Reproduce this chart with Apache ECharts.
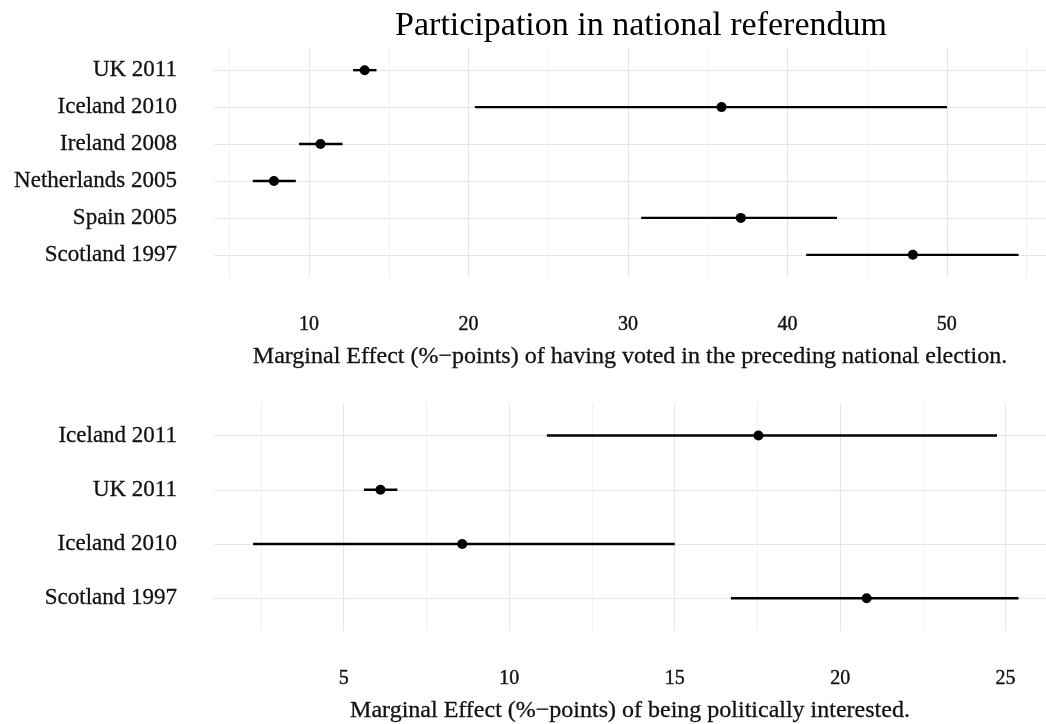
<!DOCTYPE html>
<html>
<head>
<meta charset="utf-8">
<script src="https://cdn.jsdelivr.net/npm/echarts@6/dist/echarts.min.js"></script>
<style>
  html, body { margin: 0; padding: 0; background: #fff; }
  #chart { width: 1046px; height: 724px; }
</style>
</head>
<body>
<div id="chart"></div>
<script>
// top panel: having voted in the preceding national election
var topCats = ["UK 2011", "Iceland 2010", "Ireland 2008", "Netherlands 2005", "Spain 2005", "Scotland 1997"];
var topEst = [13.49, 35.87, 10.72, 7.80, 37.08, 47.87];
var topLow = [12.76, 20.40, 9.37, 6.47, 30.83, 41.18];
var topHigh = [14.23, 50.01, 12.10, 9.17, 43.11, 54.50];
var topTicks = [10, 20, 30, 40, 50];
var topGrid = [5, 10, 15, 20, 25, 30, 35, 40, 45, 50, 55];

// bottom panel: being politically interested
var botCats = ["Iceland 2011", "UK 2011", "Iceland 2010", "Scotland 1997"];
var botEst = [17.53, 6.11, 8.58, 20.80];
var botLow = [11.14, 5.61, 2.26, 16.70];
var botHigh = [24.74, 6.62, 15.00, 25.39];
var botTicks = [5, 10, 15, 20, 25];
var botGrid = [2.5, 5, 7.5, 10, 12.5, 15, 17.5, 20, 22.5, 25];

var FONT = "Liberation Serif";
var TXT = "#111";

function idxList(n) {
  var a = [];
  for (var i = 0; i < n; i++) a.push(i);
  return a;
}

function xAxisFor(gridIndex, min, max, ticks, gridVals, name) {
  return {
    type: "value",
    gridIndex: gridIndex,
    min: min,
    max: max,
    name: name,
    nameLocation: "middle",
    nameGap: 68,
    nameTextStyle: {
      fontFamily: FONT, fontSize: 24, color: TXT,
      textBorderColor: TXT, textBorderWidth: 0.3
    },
    axisLine: { show: false },
    axisTick: { show: false, customValues: gridVals },
    axisLabel: {
      customValues: ticks,
      margin: 38,
      fontFamily: FONT,
      fontSize: 20,
      color: TXT,
      textBorderColor: TXT,
      textBorderWidth: 0.4
    },
    splitLine: {
      show: true,
      lineStyle: { color: ["#f3f3f3", "#e6e6e6"], width: 1.1 }
    }
  };
}

function yAxisFor(gridIndex, cats) {
  return {
    type: "value",
    gridIndex: gridIndex,
    inverse: true,
    min: -0.6,
    max: cats.length - 1 + 0.6,
    axisLine: { show: false },
    axisTick: { show: false, customValues: idxList(cats.length) },
    axisLabel: {
      customValues: idxList(cats.length),
      margin: 37,
      fontFamily: FONT,
      fontSize: 23,
      color: TXT,
      textBorderColor: TXT,
      textBorderWidth: 0.3,
      padding: [3, 0, 0, 0],
      formatter: function (v) { return cats[Math.round(v)]; }
    },
    splitLine: { show: true, lineStyle: { color: "#e6e6e6", width: 1.1 } }
  };
}

function barData(low, high) {
  return low.map(function (l, i) { return [l, high[i], i]; });
}

function dotData(est) {
  return est.map(function (e, i) { return [e, i]; });
}

function errorBars(axisIndex, low, high) {
  return {
    type: "custom",
    xAxisIndex: axisIndex,
    yAxisIndex: axisIndex,
    data: barData(low, high),
    encode: { x: [0, 1], y: 2 },
    renderItem: function (params, api) {
      var a = api.coord([api.value(0), api.value(2)]);
      var b = api.coord([api.value(1), api.value(2)]);
      return {
        type: "line",
        shape: { x1: a[0], y1: a[1], x2: b[0], y2: b[1] },
        style: { stroke: "#000", lineWidth: 2.4 }
      };
    },
    silent: true,
    z: 2
  };
}

function dots(axisIndex, est) {
  return {
    type: "scatter",
    xAxisIndex: axisIndex,
    yAxisIndex: axisIndex,
    data: dotData(est),
    symbol: "circle",
    symbolSize: 10,
    itemStyle: { color: "#000", opacity: 1 },
    silent: true,
    z: 3
  };
}

var chart = echarts.init(document.getElementById("chart"));
var option = {
  backgroundColor: "#fff",
  animation: false,
  title: {
    text: "Participation in national referendum",
    left: 636,
    top: 4,
    textAlign: "center",
    textStyle: { fontFamily: FONT, fontSize: 34, fontWeight: "normal", color: "#000" }
  },
  grid: [
    { left: 214, right: 0, top: 48, height: 229 },
    { left: 214, right: 0, top: 403, height: 228 }
  ],
  xAxis: [
    xAxisFor(0, 4.04, 56.22, topTicks, topGrid,
      "Marginal Effect (%\u2212points) of having voted in the preceding national election."),
    xAxisFor(1, 1.08, 26.22, botTicks, botGrid,
      "Marginal Effect (%\u2212points) of being politically interested.")
  ],
  yAxis: [yAxisFor(0, topCats), yAxisFor(1, botCats)],
  series: [
    errorBars(0, topLow, topHigh),
    dots(0, topEst),
    errorBars(1, botLow, botHigh),
    dots(1, botEst)
  ]
};
chart.setOption(option);
</script>
</body>
</html>
